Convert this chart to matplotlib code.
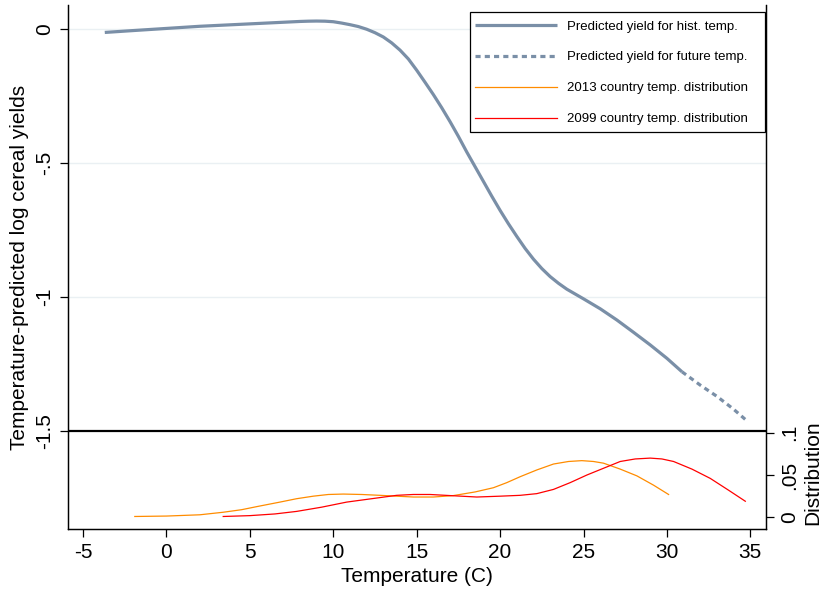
import matplotlib
matplotlib.use("Agg")
import matplotlib.pyplot as plt
from matplotlib.patches import Rectangle

plt.rcParams['font.family'] = ['Liberation Sans', 'DejaVu Sans']
plt.rcParams['axes.unicode_minus'] = False

# Predicted yield curve (historical temperature range)
temp_hist = [-3.7, -2, 0, 2, 4, 6, 7, 8, 8.5, 9, 9.5, 10, 10.5, 11, 11.5, 12,
             12.5, 13, 13.5, 14, 14.5, 15, 15.5, 16, 16.5, 17, 17.5, 18, 18.5,
             19, 19.5, 20, 20.5, 21, 21.5, 22, 22.5, 23, 23.5, 24, 24.5, 25,
             26, 27, 28, 29, 30, 30.9]
yield_hist = [-0.014, -0.007, 0.001, 0.009, 0.015, 0.021, 0.024, 0.027, 0.028,
              0.0285, 0.028, 0.026, 0.021, 0.015, 0.008, -0.002, -0.015, -0.031,
              -0.053, -0.08, -0.113, -0.155, -0.2, -0.246, -0.295, -0.347,
              -0.402, -0.46, -0.515, -0.57, -0.625, -0.678, -0.728, -0.775,
              -0.82, -0.86, -0.895, -0.925, -0.95, -0.972, -0.99, -1.008,
              -1.045, -1.087, -1.133, -1.18, -1.23, -1.28]
# Predicted yield curve (future temperature range)
temp_future = [30.9, 32, 33, 34, 34.7]
yield_future = [-1.28, -1.33, -1.372, -1.42, -1.458]

# Country temperature distributions
temp_2013 = [-1.9, 0, 2, 3.4, 4.5, 5.5, 6.8, 7.8, 8.8, 9.7, 10.6, 11.7, 12.8,
             13.8, 14.8, 16, 17.2, 18.5, 19.6, 20.4, 21.2, 22.2, 23.2, 24.1,
             24.9, 25.6, 26.2, 27.2, 28.2, 29.2, 30.1]
dens_2013 = [0.001, 0.0015, 0.003, 0.006, 0.009, 0.013, 0.018, 0.022, 0.025,
             0.027, 0.0275, 0.027, 0.026, 0.025, 0.024, 0.024, 0.0257, 0.03,
             0.035, 0.041, 0.048, 0.056, 0.063, 0.066, 0.067, 0.066, 0.064,
             0.057, 0.049, 0.038, 0.027]
temp_2099 = [3.4, 5, 6.5, 7.8, 9.3, 10.8, 12.3, 13.8, 14.8, 15.8, 17.2, 18.6,
             20, 21.2, 22.2, 23.2, 24.2, 25.2, 26.2, 27.2, 28.1, 29.0, 29.7,
             30.4, 31.5, 32.6, 33.7, 34.7]
dens_2099 = [0.001, 0.002, 0.004, 0.007, 0.012, 0.018, 0.022, 0.026, 0.027,
             0.027, 0.0255, 0.024, 0.025, 0.026, 0.028, 0.033, 0.041, 0.050,
             0.058, 0.066, 0.069, 0.070, 0.069, 0.066, 0.057, 0.046, 0.032,
             0.019]

xticks = [-5, 0, 5, 10, 15, 20, 25, 30, 35]
yticks = [0, -0.5, -1, -1.5]
yticklabels = ['0', '-.5', '-1', '-1.5']
dticks = [0, 0.05, 0.1]
dticklabels = ['0', '.05', '.1']

line_col = '#7a8fa7'
grid_col = '#eaf0f3'

W, H = 822, 590
fig = plt.figure(figsize=(W / 100, H / 100), dpi=100)
ax = fig.add_axes([68/W, 1 - 529/H, (766-68)/W, (529-5)/H])
ax2 = ax.twinx()

ax.set_xlim(-5.905, 35.94)
ax.set_ylim(-1.8668, 0.0884)
ax2.set_ylim(-0.0138, 0.6056)

for v in [0, -0.5, -1]:
    ax.axhline(v, color=grid_col, lw=1.0, zorder=0)
ax.axhline(-1.5, color='black', lw=1.6, zorder=3)

h1, = ax.plot(temp_hist, yield_hist, color=line_col, lw=2.3, solid_capstyle='butt',
              solid_joinstyle='round', label='Predicted yield for hist. temp.')
h2, = ax.plot(temp_future, yield_future, color=line_col, lw=2.3,
              linestyle=(0, (1.6, 1.3)), label='Predicted yield for future temp.')
h3, = ax2.plot(temp_2013, dens_2013, color='#ff8c00', lw=0.9,
               label='2013 country temp. distribution')
h4, = ax2.plot(temp_2099, dens_2099, color='#ff0000', lw=0.9,
               label='2099 country temp. distribution')

for a in (ax, ax2):
    a.spines['top'].set_visible(False)
    for s in ('left', 'right', 'bottom'):
        a.spines[s].set_linewidth(0.9)

ax.set_xticks(xticks)
ax.set_xticklabels([str(t) for t in xticks])
ax.set_yticks(yticks)
ax.set_yticklabels(yticklabels, rotation=90, va='center')
ax2.set_yticks(dticks)
ax2.set_yticklabels(dticklabels, rotation=90, va='center')

ax.tick_params(axis='both', direction='out', length=6, width=0.9, labelsize=15, pad=4)
ax2.tick_params(axis='y', direction='out', length=6, width=0.9, labelsize=15, pad=4)

ax.set_xlabel('Temperature (C)', fontsize=15, labelpad=4)
ax.set_ylabel('Temperature-predicted log cereal yields', fontsize=15, labelpad=4.5)
ax2.set_ylabel('Distribution', fontsize=15)
ax2.yaxis.set_label_coords((803 - 68) / 698, (529 - 473) / 524)

# legend box (drawn separately to match the reference padding)
box = Rectangle((470/W, 1 - 132/H), (765-470)/W, (132-12)/H,
                transform=fig.transFigure, facecolor='white', edgecolor='black',
                lw=0.9, zorder=9)
fig.add_artist(box)
leg = fig.legend(handles=[h1, h2, h3, h4], loc='upper left',
                 bbox_to_anchor=(470/W, 1 - 15/H), bbox_transform=fig.transFigure,
                 borderaxespad=0, fontsize=9.5, frameon=False,
                 handlelength=6.2, handletextpad=0.75,
                 labelspacing=1.42, borderpad=0.4)
leg.set_zorder(10)

fig.savefig('out.png', dpi=100)
